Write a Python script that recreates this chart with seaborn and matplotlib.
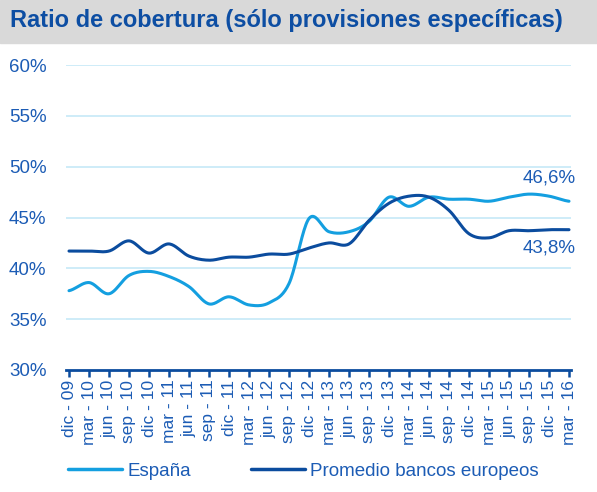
import numpy as np
import pandas as pd
import matplotlib
matplotlib.use("Agg")
import matplotlib.pyplot as plt
from matplotlib.patches import Rectangle
import seaborn as sns

# Quarter labels
periods = ["dic - 09", "mar - 10", "jun - 10", "sep - 10", "dic - 10",
           "mar - 11", "jun - 11", "sep - 11", "dic - 11", "mar - 12",
           "jun - 12", "sep - 12", "dic - 12", "mar - 13", "jun - 13",
           "sep - 13", "dic - 13", "mar - 14", "jun - 14", "sep - 14",
           "dic - 14", "mar - 15", "jun - 15", "sep - 15", "dic - 15",
           "mar - 16"]

# Coverage ratio (%)
espana = [37.8, 38.6, 37.5, 39.3, 39.7, 39.2, 38.2, 36.5, 37.2, 36.4,
          36.6, 38.5, 44.9, 43.6, 43.6, 44.6, 47.0, 46.1, 47.0, 46.8,
          46.8, 46.6, 47.0, 47.3, 47.1, 46.6]
promedio = [41.7, 41.7, 41.7, 42.7, 41.5, 42.4, 41.2, 40.8, 41.1, 41.1,
            41.4, 41.4, 42.0, 42.5, 42.4, 44.7, 46.4, 47.1, 47.0, 45.7,
            43.4, 43.0, 43.7, 43.7, 43.8, 43.8]

yticks = [30, 35, 40, 45, 50, 55, 60]

light = "#149fe0"
dark = "#0b4c9e"
text_col = "#1c5cb5"
grid_col = "#c6e9f7"


def smooth(y, n=20, tension=0.5):
    # cardinal spline through the points, like Excel's smoothed line
    y = np.asarray(y, dtype=float)
    p = np.concatenate([[y[0]], y, [y[-1]]])
    xs, ys = [], []
    for i in range(len(y) - 1):
        p0, p1, p2, p3 = p[i], p[i + 1], p[i + 2], p[i + 3]
        m1 = tension * (p2 - p0)
        m2 = tension * (p3 - p1)
        t = np.linspace(0, 1, n, endpoint=False)
        h00 = 2 * t**3 - 3 * t**2 + 1
        h10 = t**3 - 2 * t**2 + t
        h01 = -2 * t**3 + 3 * t**2
        h11 = t**3 - t**2
        xs.append(i + t)
        ys.append(h00 * p1 + h10 * m1 + h01 * p2 + h11 * m2)
    xs.append([len(y) - 1])
    ys.append([y[-1]])
    return np.concatenate(xs), np.concatenate(ys)


rows = []
for name, vals in [("España", espana), ("Promedio bancos europeos", promedio)]:
    sx, sy = smooth(vals)
    rows.append(pd.DataFrame({"x": sx, "y": sy, "serie": name}))
df = pd.concat(rows, ignore_index=True)

sns.set_style("white")
plt.rcParams["font.family"] = ["Liberation Sans", "DejaVu Sans"]

fig = plt.figure(figsize=(5.97, 4.92), dpi=100)
fig.patches.append(Rectangle((0, 1 - 43 / 492), 1, 43 / 492,
                             transform=fig.transFigure, color="#d9d9d9",
                             zorder=0))
fig.text(10 / 597, 1 - 21 / 492, "Ratio de cobertura (sólo provisiones específicas)",
         fontsize=17, fontweight="bold", color="#0d4ea3", va="center")

ax = fig.add_axes([66 / 597, 1 - 370 / 492, 505 / 597, 305 / 492])
sns.lineplot(data=df, x="x", y="y", hue="serie", sort=False, estimator=None,
             palette=[light, dark], linewidth=2.2, ax=ax, legend=False)

ax.set_ylim(30, 60)
ax.set_xlim(-0.15, 25.1)
ax.set_yticks(yticks)
ax.set_yticklabels([f"{v}%" for v in yticks])
ax.set_xticks(range(len(periods)))
ax.set_xticklabels(periods, rotation=90)
ax.set_xlabel("")
ax.set_ylabel("")
for v in yticks[1:]:
    ax.axhline(v, color=grid_col, lw=1.2, zorder=0)

for s in ["top", "right", "left"]:
    ax.spines[s].set_visible(False)
ax.spines["bottom"].set_color(dark)
ax.spines["bottom"].set_linewidth(2)
ax.tick_params(axis="x", bottom=True, colors=dark, length=5, width=1.8,
               direction="out", labelcolor=text_col, labelsize=12.5, pad=2)
ax.tick_params(axis="y", length=0, labelcolor=text_col, labelsize=13.5, pad=14)

ax.annotate("46,6%", xy=(25, espana[-1]), xytext=(5, 17),
            textcoords="offset points", ha="right", va="center",
            fontsize=13.5, color=text_col, annotation_clip=False)
ax.annotate("43,8%", xy=(25, promedio[-1]), xytext=(5, -13),
            textcoords="offset points", ha="right", va="center",
            fontsize=13.5, color=text_col, annotation_clip=False)

handles = [plt.Line2D([], [], color=light, lw=2.5),
           plt.Line2D([], [], color=dark, lw=2.5)]
leg = fig.legend(handles, ["España", "Promedio bancos europeos"],
                 loc="center left", bbox_to_anchor=(68 / 597, 1 - 471 / 492),
                 ncol=2, frameon=False, fontsize=13.5, handlelength=2.9,
                 handletextpad=0.25, columnspacing=3.2, borderpad=0,
                 borderaxespad=0)
for t in leg.get_texts():
    t.set_color(text_col)

fig.savefig("out.png", dpi=100)
